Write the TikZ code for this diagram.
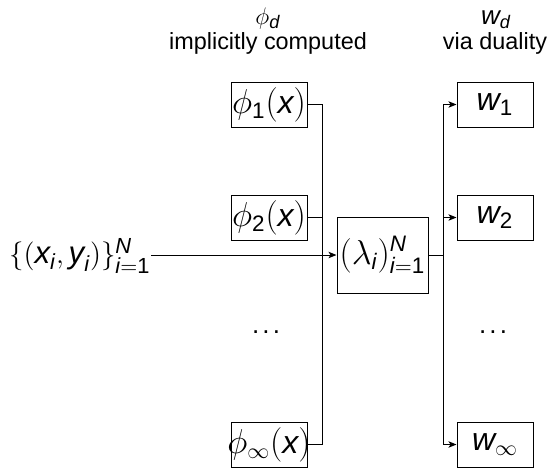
\documentclass[tikz,border=0pt]{standalone}
\usepackage{amsmath}
\usepackage{fontspec}
\setmainfont{Liberation Sans}
\usetikzlibrary{arrows.meta}
\newcommand{\sv}[1]{\text{\itshape #1}}
\newcommand{\sr}[1]{\text{\upshape #1}}
\newcommand{\mydots}{\makebox[14pt][s]{.\hfill.\hfill.}}
\begin{document}
\begin{tikzpicture}[x=0.5pt,y=-0.5pt,line width=0.5pt,
  >={Stealth[length=4pt,width=3.2pt,inset=1pt]},
  box/.style={draw,minimum width=38pt,minimum height=22.5pt,inner sep=0pt,font=\fontsize{16}{18}\selectfont},
  lab/.style={inner sep=0pt,font=\fontsize{15.6}{18}\selectfont},
  dots/.style={inner sep=0pt,anchor=base,font=\fontsize{13}{15}\selectfont},
  head/.style={inner sep=0pt,anchor=base,font=\fontsize{11.7}{14}\selectfont},
  headm/.style={inner sep=0pt,anchor=base,font=\fontsize{13}{15}\selectfont}]
\useasboundingbox (0,0) rectangle (550,467);
% headers
\node[headm] (hphi) at (268,24) {$\phi_{\sv{d}}$};
\node[head] (himp) at (268,49) {implicitly computed};
\node[headm] (hw) at (496,24) {$\sv{w}_{\sv{d}}$};
\node[head] (hdual) at (495,49) {via duality};
% feature boxes
\node[box] (p1) at (269,104.5) {\makebox[0pt]{$\phi_{\sr{1}}(\sv{x})$}};
\node[box] (p2) at (269,217.5) {\makebox[0pt]{$\phi_{\sr{2}}(\sv{x})$}};
\node[dots] (pd) at (266,333) {\mydots};
\node[box] (pi) at (269,444.5) {\makebox[0pt]{$\phi_{\infty}(\sv{x})$}};
% weights
\node[box] (w1) at (495,104.5) {\makebox[0pt]{$\sv{w}_{\sr{1}}$}};
\node[box] (w2) at (495,217.5) {\makebox[0pt]{$\sv{w}_{\sr{2}}$}};
\node[dots] (wd) at (493,333) {\mydots};
\node[box] (wi) at (495,444.5) {\makebox[0pt]{$\sv{w}_{\infty}$}};
% lambda
\node[box,minimum width=45.5pt,minimum height=38pt] (lam) at (382.5,255) {$(\lambda_{\sv{i}})_{\sv{i}=\sr{1}}^{\sv{N}}$};
% input
\node[lab,anchor=east] (in) at (151,256) {$\{(\sv{x}_{\sv{i}},\sv{y}_{\sv{i}})\}_{\sv{i}=\sr{1}}^{\sv{N}}$};
% junctions
\coordinate (jl1) at (322,104.5);
\coordinate (jli) at (322,444.5);
\coordinate (jr1) at (443,104.5);
\coordinate (jri) at (443,444.5);
\draw (p1.east) -- (jl1) -- (jli) -- (pi.east);
\draw (p2.east) -- (p2.east -| jl1);
\draw[->] (in.east |- lam.west) -- (lam.west);
\draw (lam.east) -- (lam.east -| jr1);
\draw (jr1) -- (jri);
\draw[->] (jr1) -- (w1.west);
\draw[->] (w2.west -| jr1) -- (w2.west);
\draw[->] (jri) -- (wi.west);
\end{tikzpicture}
\end{document}
